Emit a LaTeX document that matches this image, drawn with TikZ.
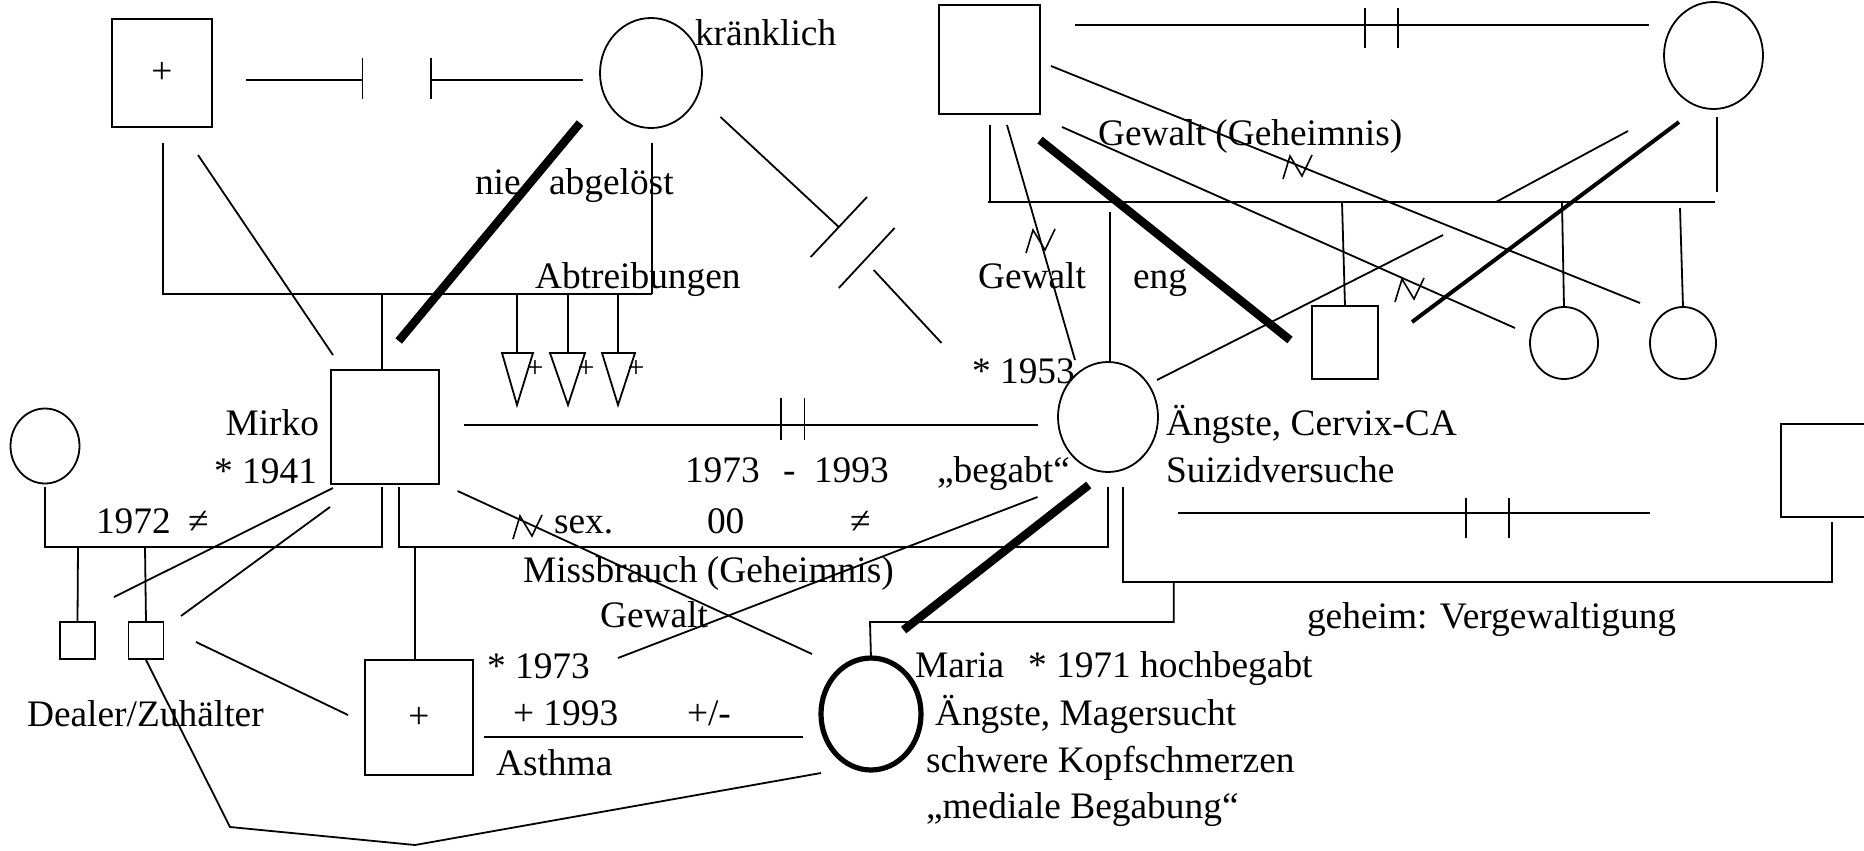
\documentclass[tikz,border=0pt]{standalone}
\usepackage{fontspec}
\setmainfont{Liberation Serif}
\usetikzlibrary{shapes.geometric}
\begin{document}
\begin{tikzpicture}[x=0.5pt,y=-0.5pt,
  every node/.style={inner sep=0pt, outer sep=0pt, font=\fontsize{18.7pt}{23pt}\selectfont},
  ln/.style={line width=0.9pt},
  heavy/.style={line width=4.2pt},
  medium/.style={line width=2pt},
  pm/.style 2 args={draw, line width=0.9pt, rectangle, minimum width=#1, minimum height=#2},
  pf/.style 2 args={draw, line width=0.9pt, ellipse, minimum width=#1, minimum height=#2},
  txt/.style={anchor=base west},
  rtxt/.style={anchor=base east},
  cross/.style={font=\fontsize{15pt}{18pt}\selectfont},
  zz/.pic={\draw[line width=0.8pt] (-15,12) -- (-8,-11) -- (4,9) -- (14,-12);}
]
\useasboundingbox (0,0) rectangle (1864,851);
\fill[white] (0,0) rectangle (1864,851);
\clip (0,0) rectangle (1864,851);

% ---------- persons ----------
\node[pm={50pt}{54pt}] (gfA) at (162,73) {+};
\node[pf={51pt}{55pt}] (gmA) at (651,73) {};
\node[pm={50.5pt}{54.5pt}] (gfB) at (989.5,59.5) {};
\node[pf={49.5pt}{53.5pt}] (gmB) at (1713.5,55.5) {};
\node[pm={54pt}{57pt}] (mirko) at (385,427) {};
\node[pf={50pt}{55pt}] (mutter) at (1108,417) {};
\node[pf={34.5pt}{37.5pt}] (frau) at (45,446) {};
\node[pm={33pt}{36.5pt}] (onkel) at (1345,342.5) {};
\node[pf={34pt}{36pt}] (tanteA) at (1564,343) {};
\node[pf={33pt}{36pt}] (tanteB) at (1683,343) {};
\node[pm={54pt}{46.5pt}] (partner) at (1835,470.5) {};
\node[pm={17.5pt}{18.5pt}] (sohnA) at (77.5,640.5) {};
\node[pm={17.5pt}{18.5pt}] (sohnB) at (146,640.5) {};
\node[pm={54pt}{57.5pt}] (bruder) at (419,717.5) {+};
\node[pf={50pt}{56pt}, line width=2.6pt] (maria) at (871,714) {};

% abortions
\foreach \n/\l/\r/\c in {1/502/533/517, 2/550/585/568, 3/602/635/618}{
  \coordinate (ab\n) at (\c,353);
  \draw[ln] (\l,353) -- (\r,353) -- (\c,405) -- cycle;
  \draw[ln] (\c,294) -- (ab\n);
  \node[cross] at (\c+18,369) {+};
}

% ---------- paternal grandparents ----------
\coordinate (sibA-l) at (163,294);
\coordinate (sibA-r) at (652,294);
\draw[ln] (163,143) -- (sibA-l) -- (sibA-r);
\draw[ln] (652,143) -- (sibA-r);
\draw[ln] (382,294) -- (382,370);
% separated couple
\draw[ln] (245.5,80) -- (362.5,80) (362.5,58) -- (362.5,99);
\draw[ln] (430.8,80) -- (582.6,80) (430.8,58) -- (430.8,99);
\draw[ln] (198,155) -- (333,355);
\draw[heavy] (580,123) -- (398.7,341);
% cut-off line grandmother -> mother
\draw[ln] (720.5,117) -- (838.8,227);
\draw[ln] (810.7,257) -- (867,197);
\draw[ln] (838.8,288) -- (894.6,228);
\draw[ln] (873.7,270) -- (941.5,343);

% ---------- maternal grandparents ----------
\draw[ln] (1075,25) -- (1649,25) (1365,8) -- (1365,48) (1398,8) -- (1398,48);
\coordinate (sibB-l) at (987.5,202);
\coordinate (sibB-r) at (1714.6,202);
\draw[ln] (sibB-l) -- (sibB-r);
\draw[ln] (990,125) -- (990,202);
\draw[ln] (1717,117) -- (1717,192);
\draw[ln] (1110,212) -- (1110,362);
\draw[ln] (1342,202) -- (onkel.north);
\draw[ln] (1562,202) -- (tanteA.north);
\draw[ln] (1680,208) -- (tanteB.north);
\draw[ln] (1007,125) -- (1075,360);
\pic at (1041,241) {zz};
\draw[ln] (1051,66) -- (1640,303);
\pic at (1298,167) {zz};
\draw[ln] (1062,127) -- (1515,328);
\pic at (1410,290) {zz};
\draw[heavy] (1040,140) -- (1290,340);
\draw[ln] (1157,380) -- (1443,235);
\draw[ln] (1496,202) -- (1628,131);
\draw[medium] (1412,322) -- (1679,122);

% ---------- Mirko and partners ----------
\draw[ln] (464,425) -- (1037.5,425) (780.8,398) -- (780.8,440) (804.5,398) -- (804.5,440);
\coordinate (famA-l) at (44.6,547);
\coordinate (famA-r) at (381.7,547);
\coordinate (famB-l) at (398.7,547);
\coordinate (famB-r) at (1107.6,547);
\draw[ln] (44.6,487) -- (famA-l) -- (famA-r) -- (381.7,487);
\draw[ln] (398.7,487) -- (famB-l) -- (famB-r) -- (1107.6,487);
\draw[ln] (78,547) -- (sohnA.north);
\draw[ln] (145,547) -- (sohnB.north);
\draw[ln] (415,547) -- (415,660);
\draw[ln] (333,488) -- (114,597);
\draw[ln] (330,507) -- (181,616);
\draw[ln] (196,642) -- (348,715);
\draw[ln] (457.6,491) -- (812,654);
\pic at (528,527) {zz};
\draw[ln] (1037.5,497) -- (618,658);
\draw[heavy] (1088.8,485) -- (903.6,630);
\draw[ln] (484,737) -- (803,737);
\draw[ln] (146,660) -- (230,827) -- (415,845) -- (821,773);

% ---------- mother and second partner ----------
\draw[ln] (1178,513) -- (1650,513) (1466,498) -- (1466,538) (1509,498) -- (1509,538);
\coordinate (famC-l) at (1123,582);
\coordinate (famC-r) at (1832,582);
\draw[ln] (1123,487) -- (famC-l) -- (famC-r) -- (1832,522);
\draw[ln] (1173.7,582) -- (1173.7,622) -- (870,622) -- (maria.north);

% ---------- labels ----------
\node[txt] at (695,45) {kränklich};
\node[txt] at (475,194) {nie};
\node[txt] at (549,194) {abgelöst};
\node[txt] at (535,288) {Abtreibungen};
\node[txt] at (1098,145) {Gewalt (Geheimnis)};
\node[txt] at (978,288) {Gewalt};
\node[txt] at (1133,288) {eng};
\node[txt] at (972,383) {* 1953};
\node[rtxt] at (319,435) {Mirko};
\node[rtxt] at (317,483) {* 1941};
\node[txt] at (685,482) {1973};
\node[txt] at (783,482) {-};
\node[txt] at (814,482) {1993};
\node[txt] at (937,482) {„begabt“};
\node[txt] at (1166,435) {Ängste, Cervix-CA};
\node[txt] at (1166,482) {Suizidversuche};
\node[txt] at (96,533) {1972};
\node[txt] at (188,533) {≠};
\node[txt] at (554,533) {sex.};
\node[txt] at (707,533) {00};
\node[txt] at (850,533) {≠};
\node[txt] at (523,582) {Missbrauch (Geheimnis)};
\node[txt] at (600,627) {Gewalt};
\node[txt] at (1307,628) {geheim: Vergewaltigung};
\node[txt] at (487,678) {* 1973};
\node[txt] at (513,725) {+ 1993};
\node[txt] at (687,725) {+/-};
\node[txt] at (496,775) {Asthma};
\node[txt] at (27,726) {Dealer/Zuhälter};
\node[txt] at (915,677) {Maria};
\node[txt] at (1028,677) {* 1971 hochbegabt};
\node[txt] at (935,725) {Ängste, Magersucht};
\node[txt] at (926,772) {schwere Kopfschmerzen};
\node[txt] at (926,818) {„mediale Begabung“};
\end{tikzpicture}
\end{document}
